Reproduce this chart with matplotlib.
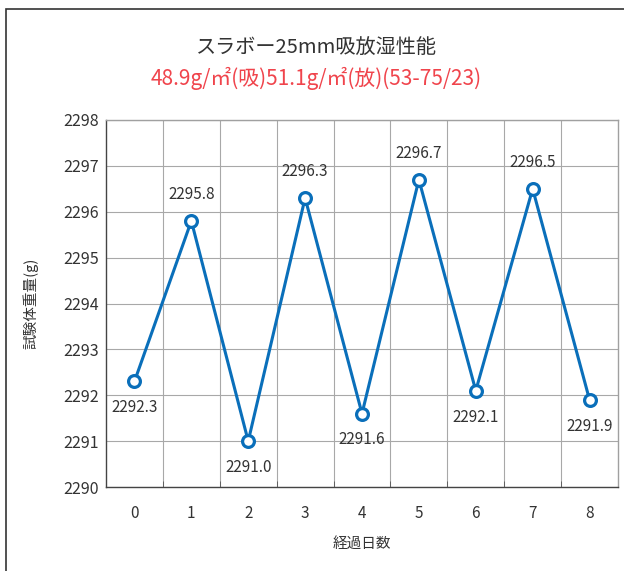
import matplotlib
matplotlib.use("Agg")
import matplotlib.pyplot as plt
from matplotlib.patches import Rectangle

plt.rcParams['font.family'] = ['Noto Sans CJK JP', 'DejaVu Sans']

days = [0, 1, 2, 3, 4, 5, 6, 7, 8]
weight = [2292.3, 2295.8, 2291.0, 2296.3, 2291.6, 2296.7, 2292.1, 2296.5, 2291.9]
label_pos = ['below', 'above', 'below', 'above', 'below', 'above', 'below', 'above', 'below']
yticks = [2290, 2291, 2292, 2293, 2294, 2295, 2296, 2297, 2298]

blue = '#0a6fba'
red = '#f0444c'
txt = '#333333'

fig = plt.figure(figsize=(6.24, 5.71), dpi=100)
# outer frame
fig.patches.append(Rectangle((6 / 624, -0.1), 1.2, 1 - 9 / 571 + 0.1,
                             transform=fig.transFigure, fill=False,
                             edgecolor='#333333', linewidth=1.2))

ax = fig.add_axes([106 / 624, 1 - 487 / 571, 512 / 624, 367 / 571])
ax.plot(days, weight, color=blue, linewidth=2.2, marker='o', markersize=8.5,
        markerfacecolor='white', markeredgecolor=blue, markeredgewidth=2.3, zorder=3)

for x, y, p in zip(days, weight, label_pos):
    dy = 19 if p == 'above' else -19
    ax.annotate(f'{y:.1f}', (x, y), xytext=(0, dy), textcoords='offset points',
                ha='center', va='center', fontsize=11, color=txt)

ax.set_xlim(-0.5, 8.5)
ax.set_ylim(2290, 2298)
ax.set_yticks(yticks)
ax.set_xticks(days)
ax.set_xticks([d + 0.5 for d in days[:-1]], minor=True)
ax.tick_params(axis='x', which='major', length=0, pad=13, labelsize=11, labelcolor=txt)
ax.tick_params(axis='x', which='minor', direction='in', length=4, color='#555555')
ax.tick_params(axis='y', length=0, pad=5, labelsize=11.5, labelcolor=txt)
ax.grid(True, axis='y', color='#a8a8a8', linewidth=0.8)
ax.grid(True, axis='x', which='minor', color='#a8a8a8', linewidth=0.8)
for s in ax.spines.values():
    s.set_color('#a0a0a0')
    s.set_linewidth(1)
ax.spines['left'].set_color('#444444')
ax.spines['bottom'].set_color('#444444')

ax.set_xlabel('経過日数', fontsize=10.5, color=txt, labelpad=11)
ax.set_ylabel('試験体重量(g)', fontsize=10.5, color=txt, labelpad=18)

fig.text(316 / 624, 1 - 48 / 571, 'スラボー25mm吸放湿性能', ha='center', va='center',
         fontsize=14.5, color=txt)
fig.text(316 / 624, 1 - 78 / 571, '48.9g/㎡(吸)51.1g/㎡(放)(53-75/23)', ha='center',
         va='center', fontsize=15, color=red)

fig.savefig('out.png', dpi=100)
